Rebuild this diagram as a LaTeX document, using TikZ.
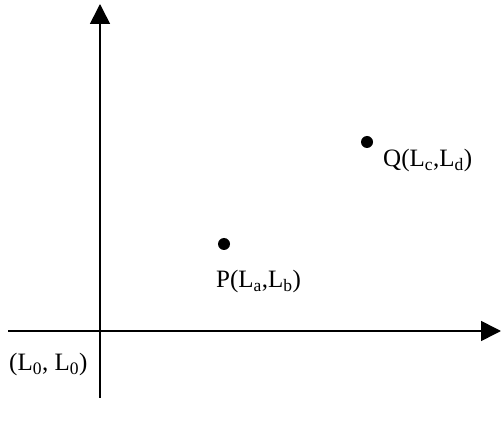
\documentclass[tikz,border=0pt]{standalone}
\usepackage{fontspec}
\setmainfont{Liberation Serif}
\usetikzlibrary{arrows.meta,positioning}
\tikzset{
  axisline/.style={line width=1.6pt,-{Triangle[length=20pt,width=20pt]}},
  ptdot/.style={circle,fill=black,inner sep=0pt,minimum size=12pt},
  ptlabel/.style={font=\fontsize{25}{30}\selectfont,inner sep=0pt,anchor=base west}
}

\begin{document}
\begin{tikzpicture}[x=1pt,y=-1pt]
  \useasboundingbox (0,0) rectangle (501,430);

  % axes
  \coordinate (origin) at (100,331);
  \coordinate (xstart) at (8,331);
  \coordinate (xend) at (501,331);
  \coordinate (ystart) at (100,398);
  \coordinate (yend) at (100,4);
  \draw[axisline] (xstart) -- (xend);
  \draw[axisline] (ystart) -- (yend);
  \node[ptlabel] (orig) at (9,371) {(L\textsubscript{0}, L\textsubscript{0})};

  % points
  \node[ptdot] (pdot) at (224,244) {};
  \node[ptlabel] (plabel) at (216,288) {P(L\textsubscript{a},L\textsubscript{b})};
  \node[ptdot] (qdot) at (367,142) {};
  \node[ptlabel] (qlabel) at (383,167) {Q(L\textsubscript{c},L\textsubscript{d})};
\end{tikzpicture}
\end{document}
